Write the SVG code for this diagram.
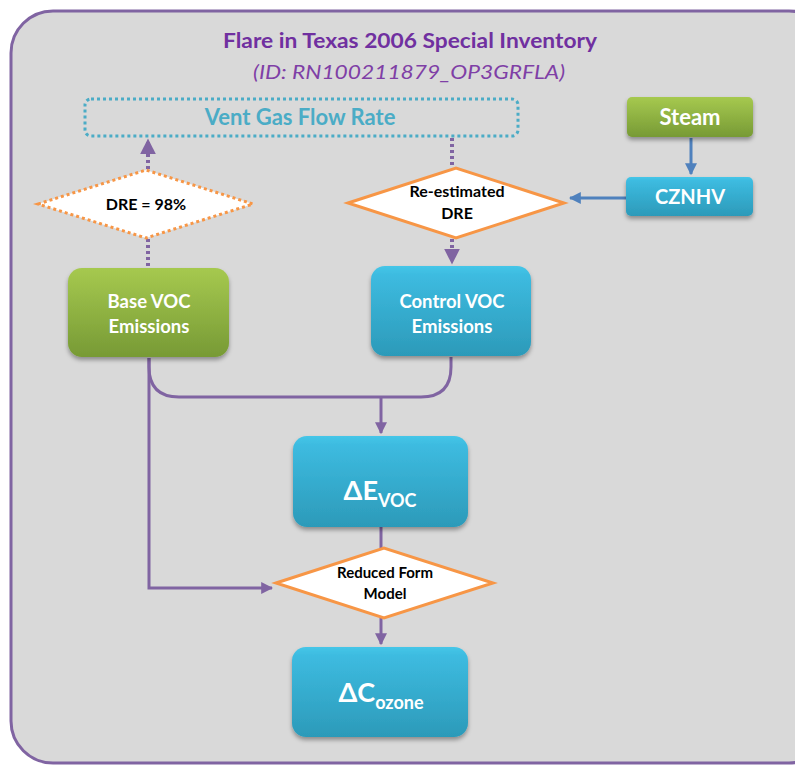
<svg xmlns="http://www.w3.org/2000/svg" width="795" height="766" viewBox="0 0 795 766">
<defs>
<linearGradient id="gGreen" x1="0" y1="0" x2="0" y2="1"><stop offset="0" stop-color="#A6C94F"/><stop offset="1" stop-color="#779A35"/></linearGradient>
<linearGradient id="gBlue" x1="0" y1="0" x2="0" y2="1"><stop offset="0" stop-color="#45C6E8"/><stop offset="0.1" stop-color="#3DBBE0"/><stop offset="1" stop-color="#2C9AB9"/></linearGradient>
<filter id="sh" x="-10%" y="-10%" width="120%" height="130%"><feDropShadow dx="0" dy="3" stdDeviation="2" flood-color="#000" flood-opacity="0.35"/></filter>
<marker id="aP" viewBox="0 0 10 10" refX="9" refY="5" markerWidth="4" markerHeight="4" orient="auto"><path d="M0,0 L10,5 L0,10 z" fill="#8064A2"/></marker>
<marker id="aB" viewBox="0 0 10 10" refX="9" refY="5" markerWidth="4" markerHeight="4" orient="auto"><path d="M0,0 L10,5 L0,10 z" fill="#4F81BD"/></marker>
<style>
.box{stroke:none;filter:url(#sh)}
.wt{fill:#fff;font-family:Lato,"Open Sans",sans-serif;font-weight:bold;text-anchor:middle}
.bt{fill:#000;font-family:Lato,"Open Sans",sans-serif;font-weight:bold;text-anchor:middle}
.pl{fill:none;stroke:#8064A2;stroke-width:3}
.pd{fill:none;stroke:#8064A2;stroke-width:4;stroke-dasharray:3 3}
.bl{fill:none;stroke:#4F81BD;stroke-width:3}
.dia{fill:#fff;stroke:#F79646;stroke-width:3}
</style>
</defs>
<rect x="11" y="11" width="820" height="752" rx="42" fill="#D9D9D9" stroke="#8064A2" stroke-width="3"/>
<g id="title">
<text x="410" y="48" font-family="Lato,'Open Sans',sans-serif" font-weight="bold" font-size="20" fill="#7030A0" text-anchor="middle" textLength="374" lengthAdjust="spacingAndGlyphs">Flare in Texas 2006 Special Inventory</text>
<text x="409" y="79" font-family="Lato,'Open Sans',sans-serif" font-style="italic" font-size="19" fill="#7F3FA6" text-anchor="middle" textLength="312" lengthAdjust="spacingAndGlyphs">(ID: RN100211879_OP3GRFLA)</text>
</g>
<g id="connectors">
<line class="pd" x1="148" y1="169" x2="148" y2="140" marker-end="url(#aP)"/>
<line class="pd" x1="148" y1="239" x2="148" y2="268"/>
<line class="pd" x1="452" y1="138" x2="452" y2="168"/>
<line class="pd" x1="452" y1="239" x2="452" y2="263" marker-end="url(#aP)"/>
<line class="bl" x1="691" y1="138" x2="691" y2="174" marker-end="url(#aB)"/>
<line class="bl" x1="626" y1="198" x2="570" y2="198" marker-end="url(#aB)"/>
<path class="pl" d="M149,358 V367 Q149,397 179,397 H421 Q451,397 451,367 V357"/>
<line class="pl" x1="381" y1="397" x2="381" y2="433" marker-end="url(#aP)"/>
<path class="pl" d="M149,358 V588 H272" marker-end="url(#aP)"/>
<line class="pl" x1="381" y1="527" x2="381" y2="549"/>
<line class="pl" x1="381" y1="617" x2="381" y2="644" marker-end="url(#aP)"/>
</g>
<g id="vent">
<rect x="85" y="99" width="433" height="37" rx="6" fill="none" stroke="#4BACC6" stroke-width="3" stroke-dasharray="3 3"/>
<text x="300" y="125" font-family="Lato,'Open Sans',sans-serif" font-weight="bold" font-size="22" fill="#4BACC6" text-anchor="middle">Vent Gas Flow Rate</text>
</g>
<g id="dre98">
<polygon class="dia" points="38,204 146,170 253,204 146,238" stroke-dasharray="3 3"/>
<text class="bt" x="146" y="210" font-size="16">DRE = 98%</text>
</g>
<g id="redre">
<polygon class="dia" points="348,203 456,168 564,203 456,238"/>
<text class="bt" x="457" y="197" font-size="16">Re-estimated</text>
<text class="bt" x="457" y="219" font-size="16">DRE</text>
</g>
<g id="steam">
<rect class="box" x="627" y="97" width="126" height="40" rx="5" fill="url(#gGreen)"/>
<text class="wt" x="690" y="125" font-size="22">Steam</text>
</g>
<g id="cznhv">
<rect class="box" x="626" y="177" width="127" height="39" rx="5" fill="url(#gBlue)"/>
<text class="wt" x="690" y="204" font-size="20">CZNHV</text>
</g>
<g id="base">
<rect class="box" x="68" y="268" width="161" height="89" rx="14" fill="url(#gGreen)"/>
<text class="wt" x="149" y="308" font-size="18.5">Base VOC</text>
<text class="wt" x="149" y="333" font-size="18.5">Emissions</text>
</g>
<g id="control">
<rect class="box" x="371" y="266" width="160" height="90" rx="14" fill="url(#gBlue)"/>
<text class="wt" x="452" y="308" font-size="18.5">Control VOC</text>
<text class="wt" x="452" y="333" font-size="18.5">Emissions</text>
</g>
<g id="deltaE">
<rect class="box" x="293" y="436" width="175" height="91" rx="14" fill="url(#gBlue)"/>
<text class="wt" x="380" y="500" font-size="27">ΔE<tspan font-size="18" dy="7">VOC</tspan></text>
</g>
<g id="rfm">
<polygon class="dia" points="276,583 384,548 493,583 384,618"/>
<text class="bt" x="385" y="578" font-size="15">Reduced Form</text>
<text class="bt" x="385" y="599" font-size="15">Model</text>
</g>
<g id="deltaC">
<rect class="box" x="292" y="647" width="176" height="90" rx="14" fill="url(#gBlue)"/>
<text class="wt" x="381" y="702" font-size="27">ΔC<tspan font-size="18" dy="7">ozone</tspan></text>
</g>
</svg>
